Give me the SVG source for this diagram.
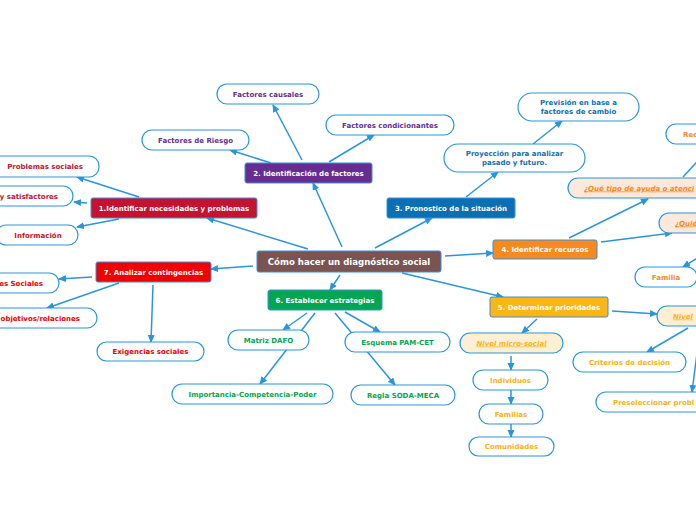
<svg xmlns="http://www.w3.org/2000/svg" width="696" height="520" viewBox="0 0 696 520">
<defs>
<marker id="arr" markerUnits="userSpaceOnUse" markerWidth="8" markerHeight="8" refX="7" refY="3.5" orient="auto">
<path d="M0,0 L8,3.5 L0,7 z" fill="#2b95dc"/>
</marker>
</defs>
<style>
text{font-family:"DejaVu Sans","Verdana",sans-serif;font-weight:bold;font-size:7px}
.c{text-anchor:middle}
.e{text-anchor:end}
.main rect{stroke:#3a8fd8;stroke-width:1}
.main text{fill:#fff;text-anchor:middle}
.leaf rect{fill:#fff;stroke:#2b95dc;stroke-width:1.2}
.pe rect{fill:#fde8dc}
.cr rect{fill:#fcefd4}
.it{font-style:italic;text-decoration:underline}
#connectors line{stroke:#2b95dc;stroke-width:1.5;marker-end:url(#arr)}
.t1{fill:#c41230}.t2{fill:#662d91}.t3{fill:#0f6fae}.t4{fill:#f28a1f}.t5{fill:#f9b218}.t6{fill:#00a650}.t7{fill:#ee0000}
</style>
<rect width="696" height="520" fill="#fff"/>
<g id="connectors">
<line x1="308" y1="249" x2="207" y2="218"/>
<line x1="342" y1="247" x2="313" y2="183"/>
<line x1="375" y1="248" x2="432" y2="218"/>
<line x1="445" y1="256" x2="493" y2="253"/>
<line x1="402" y1="273" x2="503" y2="297"/>
<line x1="340" y1="275" x2="330" y2="290"/>
<line x1="253" y1="266" x2="211" y2="269"/>
<line x1="139" y1="197" x2="77" y2="177"/>
<line x1="87" y1="203" x2="74" y2="202"/>
<line x1="119" y1="219" x2="77" y2="227"/>
<line x1="271" y1="163" x2="230" y2="150"/>
<line x1="302" y1="160" x2="273" y2="105"/>
<line x1="329" y1="162" x2="374" y2="135"/>
<line x1="466" y1="197" x2="498" y2="172"/>
<line x1="533" y1="144" x2="562" y2="121"/>
<line x1="569" y1="238" x2="648" y2="199"/>
<line x1="601" y1="242" x2="672" y2="233"/>
<line x1="683" y1="177" x2="706" y2="152"/>
<line x1="704" y1="254" x2="683" y2="267"/>
<line x1="537" y1="319" x2="522" y2="333"/>
<line x1="612" y1="311" x2="657" y2="314"/>
<line x1="511" y1="356" x2="511" y2="370"/>
<line x1="511" y1="390" x2="511" y2="404"/>
<line x1="511" y1="424" x2="511" y2="437"/>
<line x1="688" y1="328" x2="647" y2="352"/>
<line x1="700" y1="330" x2="692" y2="392"/>
<line x1="307" y1="313" x2="283" y2="330"/>
<line x1="315" y1="313" x2="260" y2="384"/>
<line x1="345" y1="312" x2="380" y2="332"/>
<line x1="335" y1="313" x2="395" y2="385"/>
<line x1="92" y1="277" x2="59" y2="279"/>
<line x1="119" y1="283" x2="47" y2="308"/>
<line x1="153" y1="285" x2="151" y2="342"/>
</g>
<g id="central" class="main"><rect x="257" y="251" width="184" height="21" rx="2" fill="#7b5350" stroke="#7b5350"/><text x="349" y="264.5" style="font-size:8.6px">Cómo hacer un diagnóstico social</text></g>
<g id="n1" class="main"><rect x="91" y="198" width="166" height="20" rx="2" fill="#c41230"/><text x="174" y="210.5">1.Identificar necesidades y problemas</text></g>
<g id="n2" class="main"><rect x="245" y="163" width="127" height="20" rx="2" fill="#662d91"/><text x="308.5" y="175.5">2. Identificación de factores</text></g>
<g id="n3" class="main"><rect x="387" y="198" width="128" height="20" rx="2" fill="#0b6fb3"/><text x="451" y="210.5">3. Pronostico de la situación</text></g>
<g id="n4" class="main"><rect x="493" y="240" width="104" height="19" rx="2" fill="#f58b1f"/><text x="545" y="252">4. Identificar recursos</text></g>
<g id="n5" class="main"><rect x="490" y="297" width="118" height="20" rx="2" fill="#fbb614"/><text x="549" y="309.5">5. Determinar prioridades</text></g>
<g id="n6" class="main"><rect x="268" y="290" width="114" height="20" rx="2" fill="#00a651"/><text x="325" y="302.5">6. Establecer estrategias</text></g>
<g id="n7" class="main"><rect x="96" y="262" width="115" height="20" rx="2" fill="#f20000"/><text x="153.5" y="274.5">7. Analizar contingencias</text></g>

<g id="l1a" class="leaf"><rect x="-10" y="156" width="109" height="21" rx="10"/><text class="c t1" x="45" y="169">Problemas sociales</text></g>
<g id="l1b" class="leaf"><rect x="-20" y="186" width="93" height="20" rx="10"/><text class="e t1" x="58" y="198.5">y satisfactores</text></g>
<g id="l1c" class="leaf"><rect x="-4" y="225" width="82" height="20" rx="10"/><text class="c t1" x="38" y="237.5">Información</text></g>

<g id="l2a" class="leaf"><rect x="217" y="84" width="102" height="20" rx="10"/><text class="c t2" x="268" y="96.5">Factores causales</text></g>
<g id="l2b" class="leaf"><rect x="142" y="130" width="107" height="20" rx="10"/><text class="c t2" x="195.5" y="142.5">Factores de Riesgo</text></g>
<g id="l2c" class="leaf"><rect x="326" y="115" width="128" height="20" rx="10"/><text class="c t2" x="390" y="127.5">Factores condicionantes</text></g>

<g id="l3a" class="leaf"><rect x="444" y="144" width="141" height="28" rx="14"/><text class="c t3" x="514.5" y="156">Proyección para analizar</text><text class="c t3" x="514.5" y="165">pasado y futuro.</text></g>
<g id="l3b" class="leaf"><rect x="518" y="93" width="121" height="28" rx="14"/><text class="c t3" x="578.5" y="105">Previsión en base a</text><text class="c t3" x="578.5" y="114">factores de cambio</text></g>

<g id="l4a" class="leaf"><rect x="666" y="124" width="60" height="20" rx="10"/><text class="t4" x="683" y="136.5">Rec</text></g>
<g id="l4b" class="leaf pe"><rect x="568" y="178" width="160" height="20" rx="10"/><text class="t4 it" x="584" y="190.5">¿Qué tipo de ayuda o atenci</text></g>
<g id="l4c" class="leaf pe"><rect x="659" y="213" width="60" height="20" rx="10"/><text class="t4 it" x="675" y="225.5">¿Quié</text></g>
<g id="l4d" class="leaf"><rect x="635" y="267" width="62" height="20" rx="10"/><text class="c t4" x="666" y="279.5">Familia</text></g>

<g id="l5a" class="leaf cr"><rect x="460" y="333" width="103" height="20" rx="10"/><text class="c t5 it" x="511.5" y="345.5">Nivel micro-social</text></g>
<g id="l5b" class="leaf"><rect x="473" y="370" width="75" height="20" rx="10"/><text class="c t5" x="510.5" y="382.5">Individuos</text></g>
<g id="l5c" class="leaf"><rect x="479" y="404" width="64" height="20" rx="10"/><text class="c t5" x="511" y="416.5">Familias</text></g>
<g id="l5d" class="leaf"><rect x="469" y="437" width="85" height="19" rx="9.5"/><text class="c t5" x="511.5" y="449">Comunidades</text></g>
<g id="l5e" class="leaf cr"><rect x="657" y="306" width="60" height="20" rx="10"/><text class="t5 it" x="673" y="318.5">Nivel</text></g>
<g id="l5f" class="leaf"><rect x="573" y="352" width="113" height="20" rx="10"/><text class="c t5" x="629.5" y="364.5">Criterios de decisión</text></g>
<g id="l5g" class="leaf"><rect x="596" y="392" width="130" height="20" rx="10"/><text class="t5" x="613" y="404.5">Preseleccionar probl</text></g>

<g id="l6a" class="leaf"><rect x="228" y="330" width="81" height="20" rx="10"/><text class="c t6" x="268.5" y="342.5">Matriz DAFO</text></g>
<g id="l6b" class="leaf"><rect x="345" y="332" width="105" height="20" rx="10"/><text class="c t6" x="397.5" y="344.5">Esquema PAM-CET</text></g>
<g id="l6c" class="leaf"><rect x="172" y="384" width="161" height="20" rx="10"/><text class="c t6" x="252.5" y="396.5">Importancia-Competencia-Poder</text></g>
<g id="l6d" class="leaf"><rect x="351" y="385" width="104" height="20" rx="10"/><text class="c t6" x="403" y="397.5">Regla SODA-MECA</text></g>

<g id="l7a" class="leaf"><rect x="-20" y="273" width="79" height="20" rx="10"/><text class="e t7" x="43" y="285.5">es Sociales</text></g>
<g id="l7b" class="leaf"><rect x="-20" y="308" width="117" height="20" rx="10"/><text class="e t7" x="80" y="320.5">objetivos/relaciones</text></g>
<g id="l7c" class="leaf"><rect x="97" y="342" width="107" height="19" rx="9.5"/><text class="c t7" x="150.5" y="354">Exigencias sociales</text></g>
</svg>
